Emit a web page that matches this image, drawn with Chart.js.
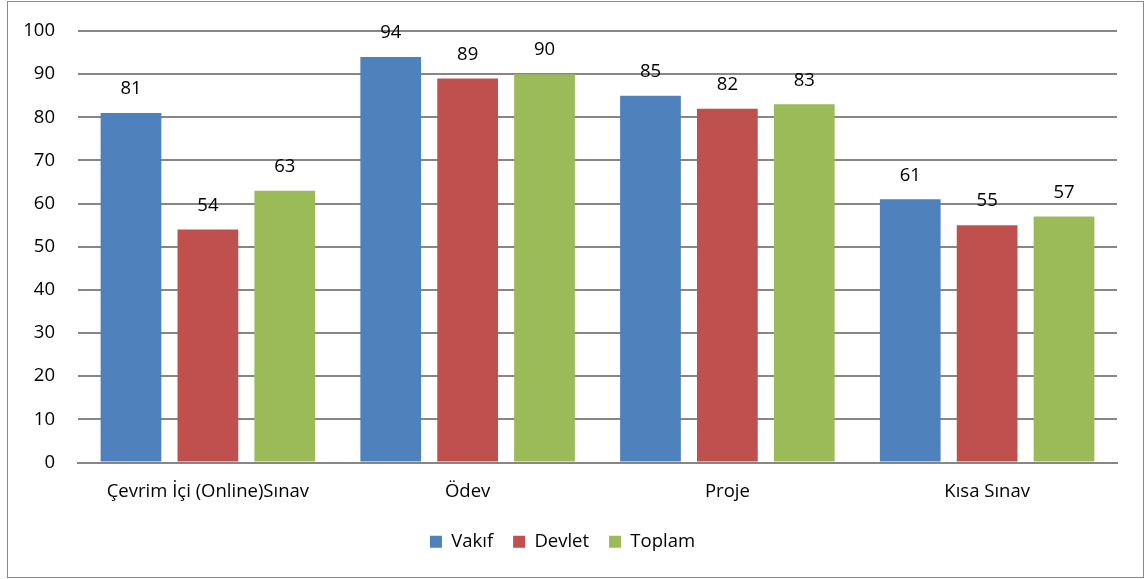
<!DOCTYPE html>
<html>
<head>
<meta charset="utf-8">
<script src="https://cdn.jsdelivr.net/npm/chart.js@4"></script>
<style>
  body { margin: 0; background: #fff; }
  #box { position: absolute; left: 7px; top: 1px; width: 1135px; height: 575px; border: 1px solid #898989; }
</style>
</head>
<body>
<div id="box"><canvas id="chart" width="1135" height="575"></canvas></div>
<script>
const categories = ["Çevrim İçi (Online)Sınav", "Ödev", "Proje", "Kısa Sınav"];
const vakif = [81, 94, 85, 61];
const devlet = [54, 89, 82, 55];
const toplam = [63, 90, 83, 57];
const yTicks = [0, 10, 20, 30, 40, 50, 60, 70, 80, 90, 100];

const FONT = "'Open Sans', sans-serif";
const SIZE = 18.5;

// etiketleri barların üstüne yaz
const valueLabels = {
  id: "valueLabels",
  afterDatasetsDraw(chart) {
    const ctx = chart.ctx;
    ctx.save();
    ctx.font = SIZE + "px " + FONT;
    ctx.fillStyle = "#000";
    ctx.textAlign = "center";
    ctx.textBaseline = "middle";
    chart.data.datasets.forEach((ds, i) => {
      chart.getDatasetMeta(i).data.forEach((bar, j) => {
        ctx.fillText(ds.data[j], bar.x, bar.y - 24);
      });
    });
    ctx.restore();
  }
};

const ctx = document.getElementById("chart").getContext("2d");
new Chart(ctx, {
  type: "bar",
  data: {
    labels: categories,
    datasets: [
      { label: "Vakıf", data: vakif, backgroundColor: "#4F81BD" },
      { label: "Devlet", data: devlet, backgroundColor: "#C0504D" },
      { label: "Toplam", data: toplam, backgroundColor: "#9BBB59" }
    ]
  },
  options: {
    responsive: false,
    animation: false,
    categoryPercentage: 0.888,
    barPercentage: 0.79,
    layout: { padding: { top: 29, right: 26, bottom: 16, left: 0 } },
    plugins: {
      legend: {
        position: "bottom",
        labels: {
          boxWidth: 12,
          boxHeight: 12,
          padding: 20,
          color: "#000",
          font: { family: FONT, size: SIZE }
        }
      },
      tooltip: { enabled: false }
    },
    scales: {
      x: {
        grid: { display: false, drawTicks: false },
        border: { color: "#868686", width: 2 },
        ticks: { color: "#000", padding: 18, font: { family: FONT, size: SIZE } },
        afterFit(axis) { axis.height = 50; }
      },
      y: {
        min: 0,
        max: 100,
        afterBuildTicks(axis) { axis.ticks = yTicks.map(v => ({ value: v })); },
        grid: { color: "#868686", lineWidth: 2, drawTicks: false },
        border: { display: false },
        ticks: { color: "#000", padding: 23, font: { family: FONT, size: SIZE } },
        afterFit(axis) {
          axis.width = 70;
          axis.paddingTop = 0;
          axis.paddingBottom = 0;
        }
      }
    }
  },
  plugins: [valueLabels]
});
</script>
</body>
</html>
